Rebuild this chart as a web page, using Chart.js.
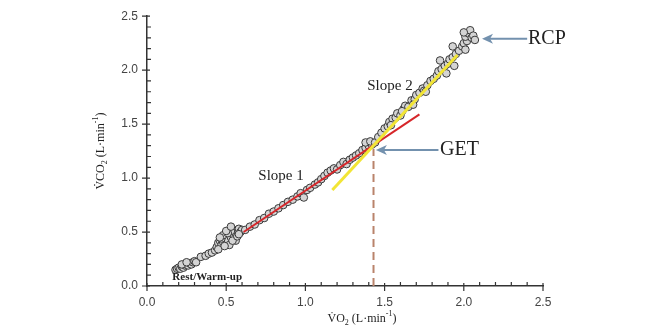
<!DOCTYPE html>
<html>
<head>
<meta charset="utf-8">
<script src="https://cdn.jsdelivr.net/npm/chart.js@4.4.0/dist/chart.umd.min.js"></script>
<style>
html,body{margin:0;padding:0;background:#fff;}
#wrap{width:660px;height:330px;position:relative;}
</style>
</head>
<body>
<div id="wrap"><canvas id="c" width="660" height="330"></canvas></div>
<script>
// ---- data ----
const vo2 = [0.18,0.19,0.20,0.21,0.22,0.23,0.24,0.25,0.26,0.27,0.28,0.29,0.30,0.31,0.22,0.25,
  0.34,0.37,0.39,0.41,0.43,
  0.44,0.45,0.46,0.47,0.48,0.49,0.50,0.50,0.51,0.52,0.53,0.54,0.55,0.55,0.56,0.57,0.58,0.59,0.60,0.47,0.52,0.56,0.48,0.53,
  0.45,0.49,0.51,0.54,0.57,0.46,0.50,0.53,0.58,
  0.62,0.65,0.68,0.71,0.74,0.77,0.80,0.83,0.86,0.89,0.92,0.95,0.97,0.99,1.01,1.03,1.06,1.08,1.10,1.12,1.14,1.16,1.18,1.20,1.22,1.24,1.26,1.28,1.30,1.32,1.34,1.36,1.38,1.40,1.42,1.38,1.41,
  1.44,1.46,1.48,1.50,1.52,1.53,1.55,1.57,1.58,1.60,1.62,1.63,1.65,1.67,1.69,1.70,1.72,1.74,1.75,1.77,1.79,1.81,1.83,1.84,1.86,1.88,1.90,1.91,1.93,1.95,1.97,1.85,1.89,1.94,
  1.54,1.61,1.68,1.76,
  1.99,2.00,2.02,2.01,2.03,2.05,2.04,2.06,2.07,2.01,1.93,2.00];
const vco2 = [0.15,0.16,0.17,0.16,0.18,0.17,0.19,0.20,0.19,0.21,0.20,0.22,0.23,0.22,0.20,0.22,
  0.27,0.28,0.30,0.31,0.33,
  0.36,0.40,0.42,0.38,0.41,0.44,0.40,0.46,0.43,0.48,0.45,0.50,0.47,0.52,0.49,0.51,0.53,0.50,0.52,0.44,0.38,0.42,0.47,0.51,
  0.34,0.37,0.49,0.42,0.46,0.45,0.51,0.55,0.48,
  0.52,0.55,0.57,0.61,0.63,0.67,0.69,0.72,0.75,0.78,0.80,0.83,0.86,0.82,0.89,0.91,0.94,0.96,0.99,1.02,1.05,1.07,1.09,1.08,1.12,1.15,1.13,1.17,1.19,1.21,1.23,1.26,1.28,1.30,1.31,1.33,1.34,
  1.33,1.38,1.42,1.46,1.48,1.52,1.55,1.56,1.60,1.58,1.64,1.67,1.66,1.72,1.73,1.77,1.79,1.83,1.81,1.86,1.90,1.92,1.95,1.99,2.01,2.04,2.06,2.10,2.12,2.15,2.18,2.09,1.97,2.04,
  1.49,1.62,1.68,1.80,
  2.22,2.25,2.27,2.31,2.34,2.30,2.37,2.32,2.28,2.19,2.22,2.35];
const slope1X = [0.61,1.72], slope1Y = [0.50,1.59];
const slope2X = [1.17,1.96], slope2Y = [0.89,2.14];
const getX = [1.43,1.43], getY = [0.00,1.27];
const tickValues = [0.0,0.5,1.0,1.5,2.0,2.5];
const labelTexts = ['Slope 1','Slope 2','GET','RCP','Rest/Warm-up'];
const labelX = [0.846,1.534,1.85,2.405,0.38];
const labelY = [1.02,1.856,1.26,2.29,0.08];
const arrowFromX = [1.84,2.40], arrowToX = [1.445,2.115], arrowY = [1.26,2.29];

const pts = vo2.map((x,i)=>({x:x,y:vco2[i]}));
const toXY = (xs,ys)=>xs.map((x,i)=>({x:x,y:ys[i]}));

const SERIF = '"Liberation Serif","DejaVu Serif",serif';
const SANS = '"Liberation Sans",Arial,sans-serif';

function richText(ctx, x, y, parts, size) {
  let total = 0;
  parts.forEach(p=>{ctx.font=(p[1]==='n'?size:Math.round(size*0.65))+'px '+SERIF; total+=ctx.measureText(p[0]).width;});
  let cx = x - total/2;
  parts.forEach(p=>{
    const s = p[1]==='n'?size:Math.round(size*0.65);
    ctx.font = s+'px '+SERIF;
    const dy = p[1]==='sub'? size*0.3 : (p[1]==='sup'? -size*0.4 : 0);
    ctx.fillText(p[0], cx, y+dy);
    cx += ctx.measureText(p[0]).width;
  });
}

const deco = {
  id:'deco',
  afterDraw(chart){
    const ctx = chart.ctx, xs = chart.scales.x, ys = chart.scales.y;
    ctx.save();
    ctx.strokeStyle = '#333'; ctx.lineWidth = 1.2;
    for (let i=0;i<=25;i++){
      const v = i/10, major = (i%5===0);
      const px = xs.getPixelForValue(v), py = ys.getPixelForValue(v);
      ctx.beginPath();
      if (major){ ctx.moveTo(px, ys.bottom-3); ctx.lineTo(px, ys.bottom+5);
                  ctx.moveTo(xs.left-5, py); ctx.lineTo(xs.left+3, py); }
      else { ctx.moveTo(px, ys.bottom); ctx.lineTo(px, ys.bottom-4);
             ctx.moveTo(xs.left, py); ctx.lineTo(xs.left+4, py); }
      ctx.stroke();
    }
    ctx.strokeStyle = '#7391ae'; ctx.fillStyle = '#7391ae'; ctx.lineWidth = 2;
    for (let i=0;i<arrowY.length;i++){
      const x0 = xs.getPixelForValue(arrowFromX[i]), x1 = xs.getPixelForValue(arrowToX[i]), y = ys.getPixelForValue(arrowY[i]);
      ctx.beginPath(); ctx.moveTo(x0,y); ctx.lineTo(x1+6,y); ctx.stroke();
      ctx.beginPath(); ctx.moveTo(x1,y); ctx.lineTo(x1+11,y-5); ctx.lineTo(x1+8,y); ctx.lineTo(x1+11,y+5); ctx.closePath(); ctx.fill();
    }
    ctx.fillStyle = '#222'; ctx.textBaseline = 'middle';
    const fonts = ['15px '+SERIF,'15px '+SERIF,'20px '+SERIF,'20px '+SERIF,'bold 11px '+SERIF];
    const aligns = ['center','center','left','left','center'];
    labelTexts.forEach((t,i)=>{
      ctx.font = fonts[i]; ctx.textAlign = aligns[i];
      ctx.fillText(t, xs.getPixelForValue(labelX[i]), ys.getPixelForValue(labelY[i]));
    });
    ctx.textAlign = 'left'; ctx.textBaseline = 'middle'; ctx.fillStyle = '#222';
    richText(ctx, (xs.left+xs.right)/2+17, 319, [['V\u0307O','n'],['2','sub'],[' (L\u00b7min','n'],['-1','sup'],[')','n']], 12);
    ctx.save();
    ctx.translate(101, (ys.top+ys.bottom)/2);
    ctx.rotate(-Math.PI/2);
    richText(ctx, 0, 0, [['V\u0307CO','n'],['2','sub'],[' (L\u00b7min','n'],['-1','sup'],[')','n']], 12);
    ctx.restore();
    ctx.restore();
  }
};

new Chart(document.getElementById('c'), {
  type:'scatter',
  data:{datasets:[
    {data:toXY(slope2X,slope2Y), showLine:true, borderColor:'#f2e535', borderWidth:3, pointRadius:0, order:1},
    {data:toXY(slope1X,slope1Y), showLine:true, borderColor:'#d6262a', borderWidth:2, pointRadius:0, order:2},
    {data:toXY(getX,getY), showLine:true, borderColor:'#b9836b', borderWidth:2, borderDash:[8,5], pointRadius:0, order:3},
    {data:pts, backgroundColor:'#d4d4d4', borderColor:'#3a3a3a', borderWidth:1, pointRadius:3.8, order:4}
  ]},
  options:{
    responsive:false, animation:false,
    layout:{padding:{left:0,right:117,top:8,bottom:0}},
    plugins:{legend:{display:false}, tooltip:{enabled:false}},
    scales:{
      x:{type:'linear', min:0, max:2.5,
         afterFit(s){s.height=44;},
         afterBuildTicks(s){s.ticks = tickValues.map(v=>({value:v}));},
         grid:{display:false, drawTicks:false},
         border:{display:true, color:'#333', width:1.5},
         ticks:{padding:9, color:'#444', font:{family:SANS, size:12}, callback:v=>Number(v).toFixed(1)}},
      y:{type:'linear', min:0, max:2.5,
         afterFit(s){s.width=147;},
         afterBuildTicks(s){s.ticks = tickValues.map(v=>({value:v}));},
         grid:{display:false, drawTicks:false},
         border:{display:true, color:'#333', width:1.5},
         ticks:{padding:9, color:'#444', font:{family:SANS, size:12}, callback:v=>Number(v).toFixed(1)}}
    }
  },
  plugins:[deco]
});
</script>
</body>
</html>
